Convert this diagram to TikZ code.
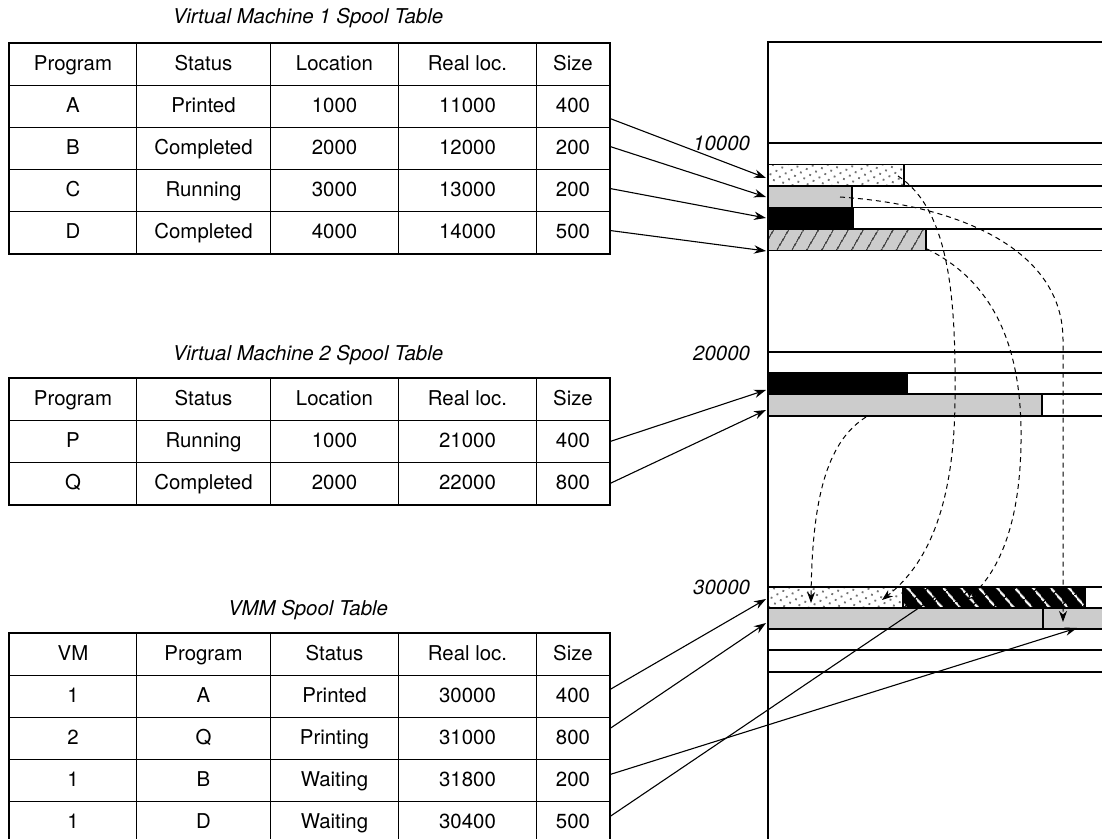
\documentclass[tikz,border=0pt]{standalone}
\usepackage{fontspec}
\setmainfont{TeX Gyre Heros}
\usetikzlibrary{matrix,arrows.meta,patterns.meta}

\begin{document}
\begin{tikzpicture}[
    x=0.5pt, y=-0.5pt,
    font=\fontsize{10.2}{12}\selectfont,
    spool/.style={matrix of nodes, draw, line width=1pt, inner sep=0pt, anchor=north west,
        column sep=-0.5pt, row sep=-0.5pt,
        nodes={draw, line width=0.5pt, minimum height=21pt, inner sep=0pt, anchor=center, text height=1.6ex, text depth=0.4ex},
        column 1/.style={nodes={minimum width=63.5pt}},
        column 2/.style={nodes={minimum width=67pt}},
        column 3/.style={nodes={minimum width=64pt}},
        column 4/.style={nodes={minimum width=69pt}},
        column 5/.style={nodes={minimum width=36.5pt}}},
    caption/.style={font=\fontsize{10.2}{12}\selectfont\itshape},
    addr/.style={font=\fontsize{10.2}{12}\selectfont\itshape, anchor=east},
    slot/.style={line width=0.6pt},
    grayblk/.style={draw, line width=0.6pt, fill=black!20},
    blackblk/.style={draw, line width=0.6pt, fill=black},
    dotblk/.style={draw, line width=0.6pt, pattern={Dots[distance=3.4pt, radius=0.65pt, angle=30]}, pattern color=black!55},
    hatchgray/.style={draw, line width=0.6pt, preaction={fill=black!20}, pattern={Lines[angle=60, distance=6.5pt, line width=0.6pt]}, pattern color=black},
    hatchblack/.style={draw, line width=0.6pt, preaction={fill=black}, pattern={Lines[angle=130, distance=6.9pt, line width=1.1pt]}, pattern color=white},
    feed/.style={line width=0.55pt, -{Stealth[length=6pt, width=4.2pt]}},
    move/.style={line width=0.5pt, dash pattern=on 2.5pt off 2pt, -{Stealth[length=5.5pt, width=4pt]}}
]
    \useasboundingbox (0,0) rectangle (1102,839);

    \node[caption] (vmonetitle) at (308,18) {Virtual Machine 1 Spool Table};
    \matrix (vmone) [spool] at (8,42) {
        Program & Status & Location & Real loc. & Size \\
        A & Printed & 1000 & 11000 & 400 \\
        B & Completed & 2000 & 12000 & 200 \\
        C & Running & 3000 & 13000 & 200 \\
        D & Completed & 4000 & 14000 & 500 \\
    };

    \node[caption] (vmtwotitle) at (308,355) {Virtual Machine 2 Spool Table};
    \matrix (vmtwo) [spool] at (8,377) {
        Program & Status & Location & Real loc. & Size \\
        P & Running & 1000 & 21000 & 400 \\
        Q & Completed & 2000 & 22000 & 800 \\
    };

    \node[caption] (vmmtitle) at (308,610) {VMM Spool Table};
    \matrix (vmm) [spool] at (8,632) {
        VM & Program & Status & Real loc. & Size \\
        1 & A & Printed & 30000 & 400 \\
        2 & Q & Printing & 31000 & 800 \\
        1 & B & Waiting & 31800 & 200 \\
        1 & D & Waiting & 30400 & 500 \\
    };

    \path[dotblk] (768,164.5) rectangle (904,186);
    \path[grayblk] (768,186) rectangle (852,207.5);
    \path[blackblk] (768,207.5) rectangle (853,229);
    \path[hatchgray] (768,229) rectangle (926,250.5);
    \path[blackblk] (768,373) rectangle (907,394);
    \path[grayblk] (768,394) rectangle (1042,416);
    \path[dotblk] (768,587) rectangle (903,608);
    \path[hatchblack] (903,587) rectangle (1085,608);
    \path[grayblk] (768,608) rectangle (1043,629);
    \path[grayblk] (1043,608) rectangle (1112,629);

    \draw[slot] (768,42) -- (1112,42);
    \foreach \y in {143,164.5,186,207.5,229,250.5,352,373,394,416,587,608,629,650,672}
        \draw[slot] (768,\y) -- (1112,\y);
    \draw[line width=1pt] (768,41) -- (768,845);

    \node[addr] (tenk) at (757,143) {10000};
    \node[addr] (twentyk) at (757,353) {20000};
    \node[addr] (thirtyk) at (757,587) {30000};

    \coordinate (inA) at (766,178);
    \coordinate (inB) at (766,197);
    \coordinate (inC) at (766,218);
    \coordinate (inD) at (766,251);
    \coordinate (inP) at (766,390);
    \coordinate (inQ) at (766,410);
    \coordinate (spA) at (766,599);
    \coordinate (spQ) at (766,623);
    \coordinate (spB) at (1077,628);
    \coordinate (spD) at (935,597);

    \draw[feed] ([yshift=-6pt]vmone-2-5.east) -- (inA);
    \draw[feed] ([yshift=1pt]vmone-3-5.east) -- (inB);
    \draw[feed] ([yshift=1pt]vmone-4-5.east) -- (inC);
    \draw[feed] ([yshift=1pt]vmone-5-5.east) -- (inD);
    \draw[feed] (vmtwo-2-5.east) -- (inP);
    \draw[feed] (vmtwo-3-5.east) -- (inQ);
    \draw[feed] ([yshift=3.5pt]vmm-2-5.east) -- (spA);
    \draw[feed] ([yshift=5pt]vmm-3-5.east) -- (spQ);
    \draw[feed] ([yshift=3pt]vmm-4-5.east) -- (spB);
    \draw[feed] ([yshift=3pt]vmm-5-5.east) -- (spD);

    \coordinate (oldA) at (898,176);
    \coordinate (oldB) at (840,197);
    \coordinate (oldD) at (927,249);
    \coordinate (oldQ) at (866,417);
    \coordinate (newA) at (882,600);
    \coordinate (newB) at (1063,622);
    \coordinate (newD) at (967,600);
    \coordinate (newQ) at (811,603);

    \draw[move] (oldQ) .. controls (830,440) and (812,490) .. (newQ);
    \draw[move] (oldA) .. controls (950,210) and (956,300) .. (955,400) .. controls (954,520) and (920,570) .. (newA);
    \draw[move, -{Stealth[length=5.5pt, width=4pt, fill=white]}] (oldD) .. controls (990,280) and (1020,340) .. (1021,430) .. controls (1022,520) and (1000,570) .. (newD);
    \draw[move] (oldB) .. controls (960,205) and (1063,250) .. (1063,340) -- (newB);
\end{tikzpicture}
\end{document}
